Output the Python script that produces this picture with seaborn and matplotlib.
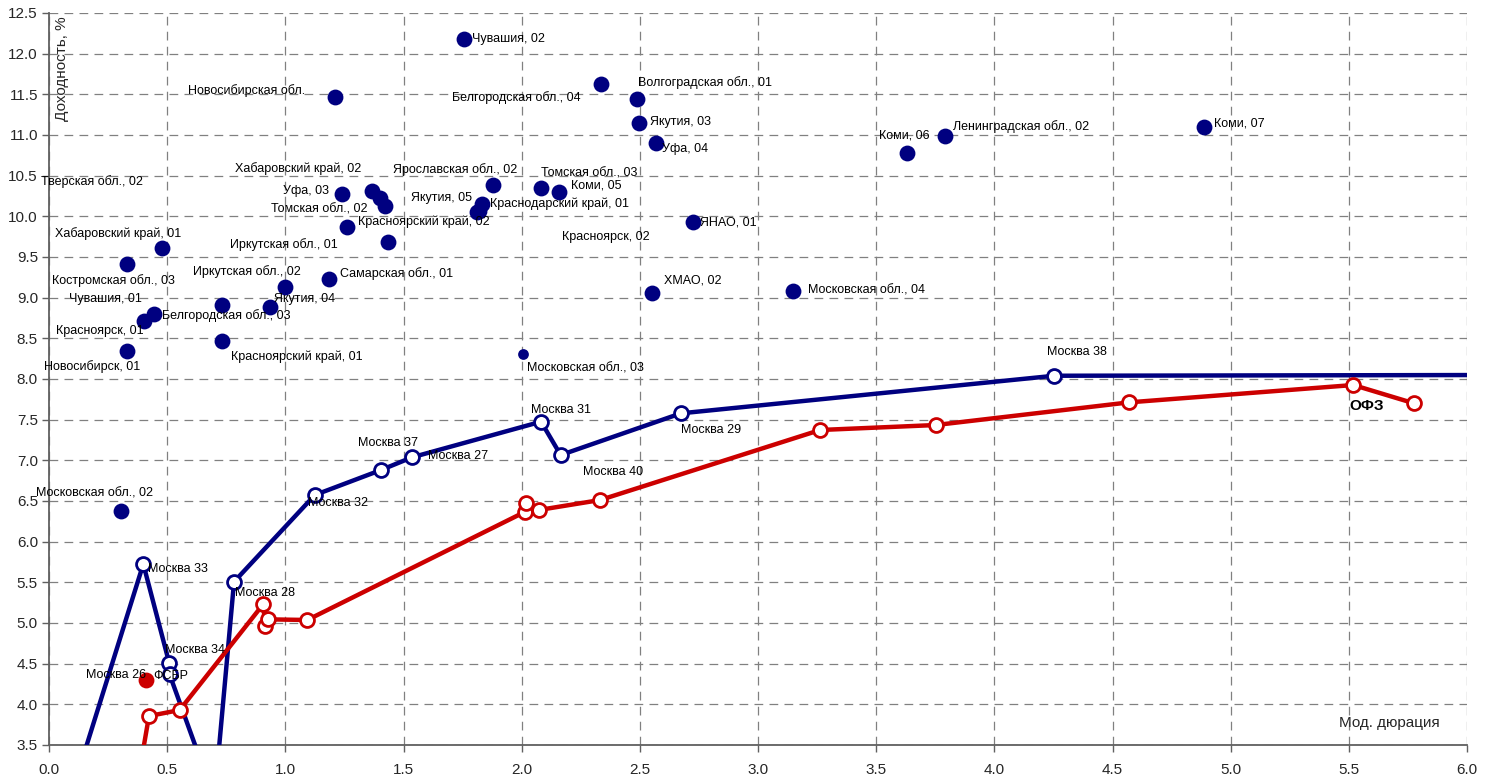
import seaborn as sns
import pandas as pd
import matplotlib.pyplot as plt
import matplotlib.ticker as ticker

# региональные выпуски: дюрация, доходность
region_names = ['Чувашия, 02', 'Новосибирская обл.', 'Белгородская обл., 04', 'Волгоградская обл., 01',
                'Якутия, 03', 'Уфа, 04', 'Коми, 06', 'Ленинградская обл., 02', 'Коми, 07',
                'Уфа, 03', 'Хабаровский край, 02', 'Томская обл., 02', 'Тверская обл., 02',
                'Красноярский край, 02', 'Иркутская обл., 01', 'Ярославская обл., 02',
                'Краснодарский край, 01', 'Якутия, 05', 'Томская обл., 03', 'Коми, 05',
                'Красноярск, 02', 'ЯНАО, 01', 'Хабаровский край, 01', 'Костромская обл., 03',
                'Иркутская обл., 02', 'Самарская обл., 01', 'Якутия, 04', 'Чувашия, 01',
                'Белгородская обл., 03', 'Красноярск, 01', 'Красноярский край, 01', 'Новосибирск, 01',
                'ХМАО, 02', 'Московская обл., 04', 'Московская обл., 03', 'Московская обл., 02']
region_x = [1.756, 1.21, 2.336, 2.488, 2.498, 2.567, 3.629, 3.792, 4.887,
            1.238, 1.365, 1.40, 1.422, 1.26, 1.436, 1.877, 1.834, 1.812, 2.08, 2.159,
            1.82, 2.724, 0.477, 0.329, 0.999, 1.186, 0.935, 0.733, 0.444, 0.403, 0.731, 0.329,
            2.55, 3.149, 2.006, 0.303]
region_y = [12.18, 11.47, 11.627, 11.443, 11.148, 10.905, 10.775, 10.99, 11.10,
            10.27, 10.315, 10.22, 10.13, 9.865, 9.68, 10.38, 10.15, 10.05, 10.344, 10.303,
            10.07, 9.934, 9.607, 9.41, 9.127, 9.226, 8.889, 8.914, 8.799, 8.717, 8.467, 8.344,
            9.054, 9.082, 8.307, 6.377]

# Москва (синяя кривая)
moscow_names = ['', 'Москва 33', 'Москва 34', 'Москва 26', '', 'Москва 28', 'Москва 32', 'Москва 37',
                'Москва 27', 'Москва 31', 'Москва 40', 'Москва 29', 'Москва 38', '']
moscow_x = [0.08, 0.399, 0.509, 0.51, 0.70, 0.783, 1.125, 1.404, 1.536, 2.082, 2.165, 2.674, 4.254, 6.3]
moscow_y = [2.76, 5.725, 4.504, 4.37, 2.84, 5.507, 6.574, 6.88, 7.037, 7.475, 7.065, 7.578, 8.04, 8.05]

# ОФЗ (красная кривая)
ofz_x = [0.37, 0.423, 0.553, 0.907, 0.914, 0.925, 1.093, 2.015, 2.018, 2.072, 2.332, 3.263, 3.752,
         4.571, 5.519, 5.777]
ofz_y = [2.96, 3.856, 3.93, 5.233, 4.967, 5.045, 5.037, 6.368, 6.471, 6.389, 6.512, 7.373, 7.434,
         7.713, 7.926, 7.70]

fsbr_x = [0.409]
fsbr_y = [4.299]

x_ticks = [i * 0.5 for i in range(13)]
y_ticks = [3.5 + i * 0.5 for i in range(19)]

# смещения подписей в пикселях
region_offsets = [(8, 0), (-147, 6), (-149, -14), (1, 16), (11, 1), (6, -6), (-28, 18), (8, 9), (10, 3),
                  (-59, 3), (-137, 22), (-109, -11), (-344, 24), (11, 6), (-158, -2), (-100, 16),
                  (8, 0), (-66, 14), (0, 15), (12, 6), (83, -26), (7, -1), (-107, 15), (-75, -16),
                  (-92, 16), (11, 6), (4, 8), (-153, 6), (8, -2), (-88, -10), (9, -16), (-83, -16),
                  (12, 13), (15, 0), (4, -14), (-85, 18)]
moscow_offsets = [None, (5, -5), (-4, 13), (-84, -1), None, (1, -11), (-7, -8), (-23, 27), (16, 1),
                  (-10, 12), (22, -17), (0, -17), (-7, 24), None]

BLUE = '#000080'
RED = '#CC0000'

sns.set_theme(style='white')
plt.rcParams['font.family'] = ['Liberation Sans', 'DejaVu Sans']

fig = plt.figure(figsize=(14.92, 7.8), dpi=100)
ax = fig.add_axes([49 / 1492, 35 / 780, 1418 / 1492, 732 / 780])

regions = pd.DataFrame({'x': region_x, 'y': region_y, 'name': region_names})
small = regions['name'] == 'Московская обл., 03'
sns.scatterplot(data=regions[~small], x='x', y='y', color=BLUE, s=130, edgecolor=BLUE,
                linewidth=0, ax=ax, zorder=4)
sns.scatterplot(data=regions[small], x='x', y='y', color=BLUE, s=60, edgecolor=BLUE,
                linewidth=0, ax=ax, zorder=4)

moscow = pd.DataFrame({'x': moscow_x, 'y': moscow_y})
sns.lineplot(data=moscow, x='x', y='y', sort=False, estimator=None, color=BLUE, linewidth=3.2,
             marker='o', markersize=10, markerfacecolor='white', markeredgecolor=BLUE,
             markeredgewidth=2, ax=ax, zorder=5)

ofz = pd.DataFrame({'x': ofz_x, 'y': ofz_y})
sns.lineplot(data=ofz, x='x', y='y', sort=False, estimator=None, color=RED, linewidth=3.2,
             marker='o', markersize=10, markerfacecolor='white', markeredgecolor=RED,
             markeredgewidth=2, ax=ax, zorder=5)

sns.scatterplot(x=fsbr_x, y=fsbr_y, color=RED, s=130, linewidth=0, ax=ax, zorder=6)

for name, x, y, off in zip(region_names, region_x, region_y, region_offsets):
    ax.annotate(name, (x, y), xytext=off, textcoords='offset pixels', ha='left', va='center',
                fontsize=9, color='black', zorder=7)
for name, x, y, off in zip(moscow_names, moscow_x, moscow_y, moscow_offsets):
    if name:
        ax.annotate(name, (x, y), xytext=off, textcoords='offset pixels', ha='left', va='center',
                    fontsize=9, color='black', zorder=7)
ax.annotate('ФСБР', (fsbr_x[0], fsbr_y[0]), xytext=(8, 4), textcoords='offset pixels',
            ha='left', va='center', fontsize=9, color='black', zorder=7)
ax.annotate('ОФЗ', (ofz_x[-2], ofz_y[-2]), xytext=(-4, -21), textcoords='offset pixels',
            ha='left', va='center', fontsize=11, fontweight='bold', color='black', zorder=7)

ax.set_xlim(0, 6)
ax.set_ylim(3.5, 12.5)
ax.set_xticks(x_ticks)
ax.set_yticks(y_ticks)
ax.xaxis.set_major_formatter(ticker.FormatStrFormatter('%.1f'))
ax.yaxis.set_major_formatter(ticker.FormatStrFormatter('%.1f'))
ax.tick_params(axis='both', labelsize=11, direction='out', length=5, width=1, color='#606060',
               bottom=True, left=True)
ax.tick_params(axis='x', pad=8)
ax.tick_params(axis='y', pad=3)

ax.set_axisbelow(True)
ax.grid(True, linestyle=(0, (7, 5)), color='#808080', linewidth=0.9)
for side in ['top', 'right']:
    ax.spines[side].set_visible(False)
for side in ['left', 'bottom']:
    ax.spines[side].set_color('#606060')
    ax.spines[side].set_linewidth(1.3)

ax.set_xlabel('')
ax.set_ylabel('')
ax.text(0.009, 0.996, 'Доходность, %', transform=ax.transAxes, rotation=90, ha='center', va='top',
        fontsize=11)
ax.text(0.981, 0.030, 'Мод. дюрация', transform=ax.transAxes, ha='right', va='center', fontsize=11)

fig.savefig('out.png', dpi=100)
